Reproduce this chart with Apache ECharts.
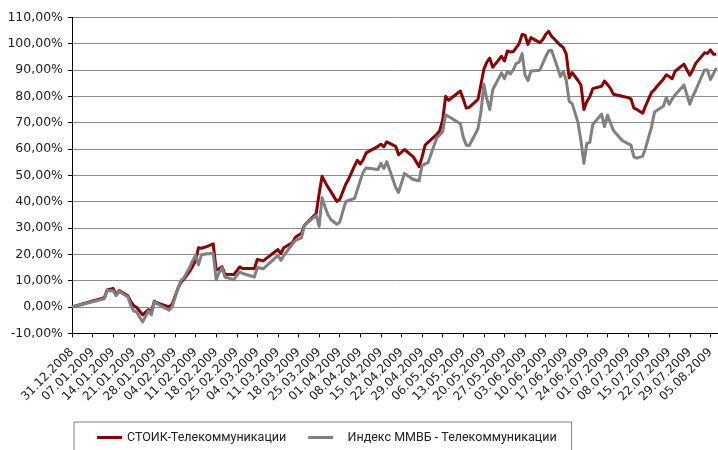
<!DOCTYPE html>
<html>
<head>
<meta charset="utf-8">
<script src="https://cdn.jsdelivr.net/npm/echarts@6/dist/echarts.min.js"></script>
<style>
  html, body { margin: 0; padding: 0; background: #fff; }
  #chart { width: 718px; height: 450px; }
</style>
</head>
<body>
<div id="chart"></div>
<script>
  // подписи оси X (каждые 7 дней начиная с 31.12.2008)
  const weekLabels = [
    "31.12.2008", "07.01.2009", "14.01.2009", "21.01.2009", "28.01.2009",
    "04.02.2009", "11.02.2009", "18.02.2009", "25.02.2009", "04.03.2009",
    "11.03.2009", "18.03.2009", "25.03.2009", "01.04.2009", "08.04.2009",
    "15.04.2009", "22.04.2009", "29.04.2009", "06.05.2009", "13.05.2009",
    "20.05.2009", "27.05.2009", "03.06.2009", "10.06.2009", "17.06.2009",
    "24.06.2009", "01.07.2009", "08.07.2009", "15.07.2009", "22.07.2009",
    "29.07.2009", "05.08.2009"
  ];

  // дни, прошедшие с 31.12.2008
  const tradeDays = [
    0, 11, 12, 14, 15, 16, 19, 20, 21, 22, 24, 26, 27, 28, 29, 33, 34, 35, 36, 37,
    38, 40, 41, 42, 43, 44, 46, 48, 49, 50, 51, 52, 55, 57, 58, 62, 63, 65, 70, 71,
    72, 75, 76, 78, 79, 83, 84, 85, 86, 87, 88, 90, 91, 93, 94, 96, 97, 98, 99, 100,
    104, 105, 106, 107, 110, 111, 113, 116, 118, 119, 120, 121, 124, 125, 126, 127, 128, 132, 133, 134,
    135, 138, 139, 140, 141, 142, 143, 146, 147, 148, 149, 150, 151, 152, 153, 154, 155, 156, 159, 160,
    161, 162, 163, 165, 166, 167, 168, 169, 170, 172, 173, 174, 175, 176, 177, 180, 181, 182, 183, 184,
    187, 189, 190, 191, 192, 194, 195, 196, 197, 198, 199, 201, 202, 203, 204, 205, 208, 210, 211, 212,
    215, 216, 217, 218, 219
  ];

  // СТОИК-Телекоммуникации, %
  const stoikValues = [
    0, 3.5, 6.5, 7.0, 4.6, 6.2, 4.2, 2.0, 0.5, -0.2, -3.0, -1.0, -1.8, 2.2, 1.5, 0.0, 1.0, 4.0, 7.0, 9.3,
    10.5, 13.5, 15.5, 17.5, 22.5, 22.3, 23.0, 24.0, 14.0, 14.5, 15.3, 12.4, 12.3, 15.2, 14.6, 14.6, 18.0, 17.5, 21.8, 20.3,
    22.5, 24.5, 26.6, 28.0, 31.0, 35.5, 43.0, 49.6, 47.5, 45.5, 43.8, 40.1, 40.8, 46.5, 48.5, 53.5, 55.7, 54.3, 56.0, 58.5,
    61.0, 61.8, 60.8, 62.7, 61.0, 57.8, 59.8, 57.0, 53.3, 57.0, 61.4, 62.5, 65.5, 67.0, 71.0, 80.0, 78.5, 82.0, 79.0, 75.5,
    75.8, 78.8, 84.5, 90.3, 93.0, 94.5, 91.0, 95.2, 93.4, 97.2, 96.8, 97.0, 98.5, 100.0, 103.5, 103.2, 99.7, 102.3, 100.4, 101.5,
    103.5, 104.7, 102.8, 100.5, 99.4, 98.5, 96.0, 87.0, 89.0, 86.0, 84.3, 75.0, 78.0, 79.8, 82.9, 83.8, 85.8, 84.5, 83.0, 80.8,
    80.0, 79.5, 79.0, 75.5, 75.0, 73.6, 76.5, 79.0, 81.5, 82.5, 84.0, 86.5, 88.2, 87.5, 86.7, 89.5, 92.2, 88.0, 90.0, 92.5,
    96.5, 96.3, 97.6, 96.0, 96.0
  ];

  // Индекс ММВБ - Телекоммуникации, %
  const micexValues = [
    0, 3.1, 6.3, 6.2, 4.3, 6.0, 3.8, 0.5, -1.5, -2.0, -5.7, -1.5, -3.0, 2.0, 1.2, -1.2, 0.0, 3.5, 7.0, 10.0,
    11.0, 15.0, 17.5, 19.6, 16.0, 19.8, 20.2, 20.3, 10.3, 13.0, 15.0, 11.4, 10.4, 13.3, 12.7, 11.4, 15.0, 14.5, 19.6, 17.7,
    19.5, 24.0, 25.3, 26.2, 31.0, 34.8, 30.6, 41.5, 38.0, 35.0, 33.2, 31.4, 32.2, 39.9, 40.5, 41.2, 44.5, 48.0, 51.3, 52.8,
    52.2, 54.5, 52.6, 55.2, 45.5, 43.5, 50.7, 48.4, 47.9, 53.8, 54.3, 54.8, 64.3, 65.3, 66.5, 73.0, 72.3, 69.6, 64.5, 61.5,
    61.2, 67.7, 74.0, 84.5, 79.0, 75.0, 82.5, 88.9, 86.7, 89.5, 88.5, 90.0, 92.5, 93.0, 96.2, 88.0, 86.0, 89.6, 89.9, 92.4,
    95.0, 97.2, 97.5, 91.0, 87.5, 89.4, 86.0, 78.0, 77.3, 70.0, 63.0, 54.6, 62.2, 62.4, 69.3, 73.2, 68.5, 72.8, 70.0, 67.1,
    63.2, 62.0, 61.5, 57.0, 56.5, 57.3, 60.5, 64.5, 68.4, 74.0, 74.8, 76.2, 79.5, 77.0, 79.0, 80.5, 84.3, 77.0, 80.0, 82.3,
    90.0, 90.0, 86.4, 88.5, 90.8
  ];

  const seriesNames = ["СТОИК-Телекоммуникации", "Индекс ММВБ - Телекоммуникации"];

  const chart = echarts.init(document.getElementById("chart"), null, { renderer: "canvas" });

  const pairs = (vals) => tradeDays.map((d, i) => [d, vals[i]]);

  const option = {
    animation: false,
    backgroundColor: "#fff",
    grid: {
      left: 72,
      top: 17.3,
      right: -13,
      bottom: 116.7,
      outerBoundsMode: "none"
    },
    legend: {
      data: seriesNames,
      left: 74,
      top: 422,
      orient: "horizontal",
      icon: "rect",
      itemWidth: 25,
      itemHeight: 3,
      itemGap: 22,
      borderColor: "#7f7f7f",
      borderWidth: 1,
      padding: [9, 15, 14, 23],
      // во втором пункте отступ от линии до текста чуть больше
      formatter: function (name) {
        return name === seriesNames[1] ? "   " + name : name;
      },
      textStyle: {
        fontFamily: "Roboto",
        fontSize: 12.5,
        color: "#222"
      }
    },
    xAxis: {
      type: "value",
      min: 0,
      max: 224,
      interval: 7,
      axisLine: { onZero: false, lineStyle: { color: "#000", width: 1 } },
      axisTick: { show: true, length: 4, lineStyle: { color: "#000" } },
      splitLine: { show: false },
      axisLabel: {
        rotate: 45,
        margin: 17,
        fontFamily: "DejaVu Sans",
        fontSize: 12,
        color: "#222",
        showMaxLabel: false,
        formatter: function (v) {
          return weekLabels[Math.round(v / 7)] || "";
        }
      }
    },
    yAxis: {
      type: "value",
      min: -10,
      max: 110,
      interval: 10,
      axisLine: { show: true, onZero: false, lineStyle: { color: "#000", width: 1 } },
      axisTick: { show: true, length: 4, lineStyle: { color: "#000" } },
      splitLine: { lineStyle: { color: "#8c8c8c", width: 1 } },
      axisLabel: {
        margin: 9,
        fontFamily: "DejaVu Sans",
        fontSize: 12.5,
        color: "#222",
        formatter: function (v) {
          return v.toFixed(2).replace(".", ",") + "%";
        }
      }
    },
    series: [
      {
        name: seriesNames[0],
        type: "line",
        data: pairs(stoikValues),
        symbol: "none",
        color: "#8b0000",
        lineStyle: { width: 3, color: "#8b0000", join: "round" }
      },
      {
        name: seriesNames[1],
        type: "line",
        data: pairs(micexValues),
        symbol: "none",
        color: "#808080",
        lineStyle: { width: 3, color: "#808080", join: "round" }
      }
    ]
  };

  chart.setOption(option);
</script>
</body>
</html>
